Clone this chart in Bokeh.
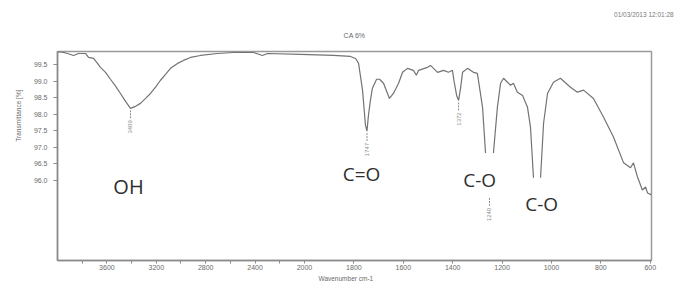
import math
from bokeh.plotting import figure
from bokeh.models import FixedTicker, PrintfTickFormatter, Label, BoxAnnotation, Range1d, Title
from bokeh.core.properties import value
from bokeh.embed import file_html
from bokeh.resources import INLINE

# ---- data ----
wavenumber = [4000, 3960, 3919, 3870, 3830, 3773, 3749, 3708, 3676, 3652,
              3611, 3571, 3530, 3490, 3449, 3409, 3368, 3328, 3287, 3247,
              3206, 3166, 3125, 3085, 3028, 2980, 2923, 2842, 2704, 2575,
              2413, 2340, 2300, 2032, 1882, 1814, 1793, 1781, 1765, 1753,
              1747, 1741, 1733, 1725, 1708, 1696, 1680, 1656, 1640, 1619,
              1603, 1583, 1559, 1547, 1538, 1502, 1490, 1461, 1437, 1417,
              1401, 1393, 1384, 1376, 1368, 1360, 1340, 1316, 1300, 1279,
              1267, 1251, 1235, 1219, 1206, 1194, 1178, 1166, 1154, 1138,
              1117, 1097, 1085, 1073, 1059, 1044, 1032, 1016, 992, 964,
              923, 895, 870, 830, 789, 749, 708, 680, 668, 652,
              632, 619, 611, 595]
transmittance = [99.89, 99.88, 99.84, 99.78, 99.84, 99.84, 99.72, 99.69, 99.54, 99.42,
                 99.27, 99.06, 98.85, 98.63, 98.39, 98.18, 98.24, 98.33, 98.48, 98.63,
                 98.82, 99.03, 99.21, 99.39, 99.54, 99.63, 99.72, 99.78, 99.84, 99.87,
                 99.87, 99.78, 99.84, 99.81, 99.78, 99.75, 99.69, 99.54, 98.73, 97.67,
                 97.49, 97.97, 98.42, 98.79, 99.06, 99.06, 98.94, 98.48, 98.63, 98.94,
                 99.27, 99.39, 99.33, 99.18, 99.33, 99.42, 99.48, 99.27, 99.33, 99.27,
                 99.33, 98.94, 98.57, 98.42, 98.79, 99.27, 99.39, 99.27, 99.24, 98.21,
                 96.83, 95.53, 96.83, 98.21, 98.94, 99.09, 98.97, 98.88, 98.94, 98.67,
                 98.57, 98.21, 97.61, 96.11, 95.11, 96.11, 97.73, 98.63, 98.97, 99.09,
                 98.82, 98.67, 98.73, 98.48, 97.91, 97.31, 96.53, 96.38, 96.53, 96.11,
                 95.71, 95.80, 95.62, 95.56]
assert len(wavenumber) == len(transmittance)

peak_wn = [3409, 1747, 1376, 1251]
peak_T = [98.18, 97.49, 98.42, 95.53]
peak_labels = ["3409", "1747", "1372", "1240"]

x_tick_labels = [3600, 3200, 2800, 2400, 2000, 1800, 1600, 1400, 1200, 1000, 800, 600]
x_minor_ticks = [3800, 3400, 3000, 2600, 2200]
y_ticks = [99.5, 99.0, 98.5, 98.0, 97.5, 97.0, 96.5, 96.0]

title_text = "CA 6%"
date_text = "01/03/2013  12:01:28"
x_label = "Wavenumber cm-1"
y_label = "Transmittance [%]"
band_labels = ["OH", "C=O", "C-O", "C-O"]

# ---- FTIR axis: scale compressed 2x above 2000 cm-1 ----
BREAK = 2000.0
def to_axis(wn):
    return wn if wn <= BREAK else BREAK + (wn - BREAK) / 2.0

xs = [to_axis(w) for w in wavenumber]

p = figure(width=680, height=281, output_backend="svg", toolbar_location=None,
           x_range=Range1d(to_axis(4000), to_axis(595)),
           y_range=Range1d(93.575, 99.9),
           min_border_left=57, min_border_right=29, min_border_top=51, min_border_bottom=20,
           background_fill_color="white", border_fill_color="white")
p.title.text = ""
p.outline_line_color = "#9a9a9a"
p.outline_line_width = 1.5
p.xgrid.visible = False
p.ygrid.visible = False

p.line(xs, transmittance, line_color="#737373", line_width=1.2)

# peak markers
tick_x = [to_axis(w) for w in peak_wn]
p.segment(x0=tick_x, y0=[t - 0.06 for t in peak_T], x1=tick_x, y1=[t - 0.3 for t in peak_T],
          line_color="#8a8a8a", line_width=1, line_dash="2 1")
p.text(x=tick_x, y=[t - 0.36 for t in peak_T], text=peak_labels, angle=math.pi / 2,
       text_align="right", text_baseline="middle", text_font_size="6px",
       text_color="#8a8a8a", text_font=value("Liberation Sans"))

# white boxes from the pasted band labels
for (l, r, t, b) in [(1360, 1206, 96.83, 95.47), (1121, 959, 96.08, 94.99)]:
    p.add_layout(BoxAnnotation(left=to_axis(l), right=to_axis(r), top=t, bottom=b,
                               fill_color="white", fill_alpha=1.0, line_color=None))

# axes
p.xaxis.ticker = FixedTicker(ticks=[to_axis(w) for w in x_tick_labels],
                             minor_ticks=[to_axis(w) for w in x_minor_ticks])
p.xaxis.major_label_overrides = {to_axis(w): str(w) for w in x_tick_labels}
p.xaxis.major_tick_out = 3
p.xaxis.major_tick_in = 0
p.xaxis.minor_tick_out = 3
p.xaxis.minor_tick_in = 0
p.xaxis.major_label_standoff = 1

p.yaxis.ticker = FixedTicker(ticks=y_ticks)
p.yaxis.formatter = PrintfTickFormatter(format="%.1f")
p.yaxis.major_tick_out = 4
p.yaxis.major_tick_in = 0
p.yaxis.minor_tick_line_color = None
p.yaxis.major_label_standoff = 6

for ax in (p.xaxis, p.yaxis):
    ax.axis_line_color = "#8a8a8a"
    ax.axis_line_width = 1.5
    ax.major_tick_line_color = "#8a8a8a"
    ax.major_label_text_font_size = "7px"
    ax.major_label_text_color = "#6a6a6a"
    ax.major_label_text_font = "Liberation Sans"
p.xaxis.minor_tick_line_color = "#8a8a8a"

# titles / axis captions placed in the borders
p.add_layout(Title(text=title_text, align="center", text_font_size="7px",
                   text_font="Liberation Sans", text_color="#6a6a6a",
                   text_font_style="normal", standoff=25), "above")
p.add_layout(Title(text=date_text, align="right", offset=-24, text_font_size="6.5px",
                   text_font="Liberation Sans", text_color="#7a7a7a",
                   text_font_style="normal", standoff=0), "above")
p.add_layout(Title(text=x_label, align="left", offset=261, text_font_size="6.5px",
                   text_font="Liberation Sans", text_color="#6a6a6a",
                   text_font_style="normal", standoff=0), "below")
p.add_layout(Title(text=y_label, align="right", offset=38, text_font_size="6.5px",
                   text_font="Liberation Sans", text_color="#6a6a6a",
                   text_font_style="normal", standoff=18), "left")

band_pos = [(3425, 95.80, "20px"), (1769, 96.20, "19px"), (1291, 96.01, "19px"), (1040, 95.29, "19px")]
for txt, (w, t, fs) in zip(band_labels, band_pos):
    p.add_layout(Label(x=to_axis(w), y=t, text=txt, text_font="Open Sans",
                       text_font_size=fs, text_color="#2e2e2e",
                       text_align="center", text_baseline="middle"))

open("out.html", "w").write(file_html(p, INLINE))
